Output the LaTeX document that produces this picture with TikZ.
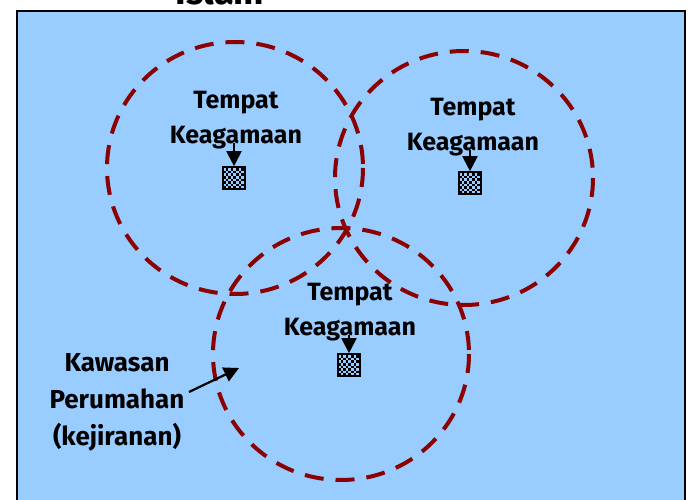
\documentclass[tikz,border=0pt]{standalone}
\usepackage{fontspec}
\setmainfont{Fira Sans}
\usetikzlibrary{arrows.meta}
\definecolor{bgblue}{HTML}{99CCFF}
\definecolor{ringred}{HTML}{8B0000}
\tikzset{
  ring/.style={draw=ringred, line width=4pt, dash pattern=on 19pt off 12pt},
  lbl/.style={font=\bfseries\fontsize{25}{35}\selectfont, align=center, inner sep=0pt},
  site/.style={draw=black, line width=1.6pt, minimum size=22pt, inner sep=0pt,
    path picture={
      \foreach \i in {0,...,8}{\foreach \j in {0,...,8}{
        \pgfmathtruncatemacro{\p}{mod(\i+\j,2)}
        \ifnum\p=0
          \fill[black] ([xshift=\i*2.6pt,yshift=\j*2.6pt]path picture bounding box.south west) rectangle ++(2.6pt,2.6pt);
        \fi}}
    }},
  pointer/.style={line width=2pt, -{Triangle[width=15pt,length=15pt]}},
}
\begin{document}
\begin{tikzpicture}[x=1pt,y=-1pt]
\useasboundingbox (0,0) rectangle (689,500);
\begin{scope}
\clip (0,0) rectangle (689,500);
\filldraw[fill=bgblue, draw=black, line width=2.5pt] (17,11) rectangle (685,520);
\node[font=\bfseries\fontsize{36}{36}\selectfont, anchor=base, inner sep=0pt] (title) at (220,5) {Islam};
\end{scope}
\draw[ring] (235,168) ellipse [x radius=128, y radius=126];
\draw[ring] (464,178) ellipse [x radius=129, y radius=127];
\draw[ring] (341,354) ellipse [x radius=128, y radius=126];

\node[lbl] (t1) at (236,120) {Tempat\\Keagamaan};
\node[lbl] (t2) at (473,127) {Tempat\\Keagamaan};
\node[lbl] (t3) at (350,312) {Tempat\\Keagamaan};

\node[site] (s1) at (234,178) {};
\node[site] (s2) at (470,183) {};
\node[site] (s3) at (349,365) {};

\draw[pointer] ([yshift=6pt]t1.south -| s1) -- (s1.north);
\draw[pointer] ([yshift=6pt]t2.south -| s2) -- (s2.north);
\draw[pointer] ([yshift=6pt]t3.south -| s3) -- (s3.north);

\node[lbl, font=\bfseries\fontsize{26}{37}\selectfont] (kw) at (117,402) {Kawasan\\Perumahan\\(kejiranan)};
\coordinate (ktail) at (189,392);
\coordinate (khead) at (239,368);
\draw[pointer, line width=2.2pt] (ktail) -- (khead);
\end{tikzpicture}
\end{document}
